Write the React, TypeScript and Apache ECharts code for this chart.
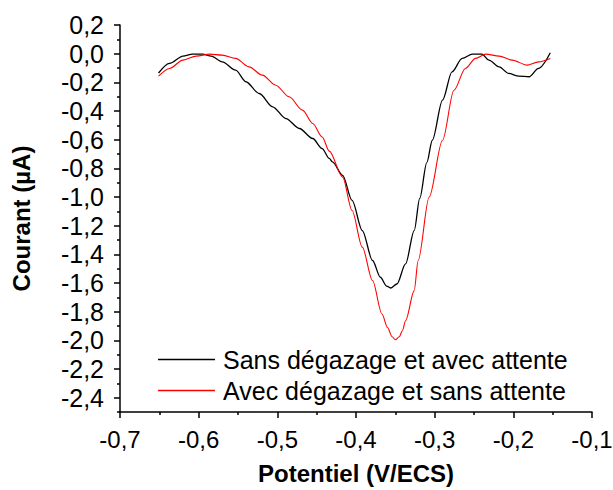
import React, { useEffect, useRef } from "react";
import * as echarts from "echarts";

const seriesNames = ["Sans dégazage et avec attente", "Avec dégazage et sans attente"];

const blackCurve: [number, number][] = [
  [-0.651, -0.135], [-0.637, -0.068], [-0.620, -0.017], [-0.608, -0.003], [-0.595, -0.003],
  [-0.584, -0.017], [-0.570, -0.057], [-0.553, -0.115], [-0.540, -0.196], [-0.523, -0.278],
  [-0.506, -0.371], [-0.489, -0.453], [-0.472, -0.522], [-0.455, -0.592], [-0.443, -0.662],
  [-0.434, -0.730], [-0.430, -0.755], [-0.417, -0.849], [-0.405, -1.024], [-0.392, -1.234],
  [-0.379, -1.443], [-0.369, -1.560], [-0.361, -1.622], [-0.356, -1.635], [-0.348, -1.607],
  [-0.337, -1.467], [-0.326, -1.234], [-0.319, -1.010], [-0.310, -0.760], [-0.303, -0.604],
  [-0.290, -0.324], [-0.278, -0.127], [-0.265, -0.033], [-0.252, -0.003], [-0.240, -0.003],
  [-0.231, -0.045], [-0.218, -0.092], [-0.206, -0.138], [-0.193, -0.157], [-0.180, -0.161],
  [-0.168, -0.103], [-0.153, 0.006],
];

const redCurve: [number, number][] = [
  [-0.651, -0.157], [-0.637, -0.103], [-0.620, -0.045], [-0.603, -0.017], [-0.586, -0.003],
  [-0.570, -0.010], [-0.553, -0.033], [-0.536, -0.092], [-0.519, -0.150], [-0.502, -0.220],
  [-0.485, -0.301], [-0.468, -0.394], [-0.455, -0.487], [-0.443, -0.581], [-0.434, -0.680],
  [-0.417, -0.861], [-0.405, -1.094], [-0.392, -1.350], [-0.379, -1.583], [-0.367, -1.816],
  [-0.360, -1.910], [-0.354, -1.975], [-0.350, -1.996], [-0.345, -1.975], [-0.341, -1.933],
  [-0.337, -1.863], [-0.326, -1.653], [-0.321, -1.443], [-0.307, -1.000], [-0.290, -0.604],
  [-0.2755, -0.255], [-0.261, -0.103], [-0.248, -0.033], [-0.235, -0.003], [-0.218, -0.017],
  [-0.2015, -0.045], [-0.1825, -0.080], [-0.168, -0.057], [-0.153, -0.033],
];

const xMajorTicks = [-0.7, -0.6, -0.5, -0.4, -0.3, -0.2, -0.1];
const xMinorTicks = [-0.65, -0.55, -0.45, -0.35, -0.25, -0.15];
const yMajorTicks = [-2.4, -2.2, -2.0, -1.8, -1.6, -1.4, -1.2, -1.0, -0.8, -0.6, -0.4, -0.2, 0.0, 0.2];
const yMinorTicks = [-2.5, -2.3, -2.1, -1.9, -1.7, -1.5, -1.3, -1.1, -0.9, -0.7, -0.5, -0.3, -0.1, 0.1];

const fmt = (v: number) => {
  const r = Math.round(v * 10) / 10;
  if (Math.abs(r) < 1e-9) return "0,0";
  return r.toFixed(1).replace(".", ",");
};

const FONT = "'Liberation Sans', Arial, sans-serif";

export default function App() {
  const ref = useRef<HTMLDivElement>(null);
  useEffect(() => {
    if (!ref.current) return;
    const chart = echarts.init(ref.current, undefined, { renderer: "svg" });
    const axisLine = { show: true, onZero: false, lineStyle: { color: "#000", width: 1.5 } };
    const tickStyle = { color: "#000", width: 1.5 };
    chart.setOption({
      animation: false,
      backgroundColor: "#fff",
      textStyle: { fontFamily: FONT },
      grid: { left: 120, right: 21, top: 25, bottom: 78, outerBoundsMode: "none", containLabel: false },
      legend: {
        orient: "vertical",
        left: 158,
        top: 347,
        padding: 0,
        icon: "rect",
        itemWidth: 57,
        itemHeight: 1.5,
        itemGap: 6,
        data: seriesNames,
        textStyle: { fontFamily: FONT, fontSize: 25, color: "#000", lineHeight: 25, padding: [0, 0, 0, 3] },
      },
      xAxis: [
        {
          type: "value",
          min: -0.7,
          max: -0.1,
          position: "bottom",
          axisLine,
          splitLine: { show: false },
          axisTick: { show: true, customValues: xMajorTicks, length: 6, lineStyle: tickStyle },
          axisLabel: {
            customValues: xMajorTicks,
            formatter: fmt,
            fontSize: 24,
            color: "#000",
            margin: 15,
            fontFamily: FONT,
          },
          name: "Potentiel (V/ECS)",
          nameLocation: "middle",
          nameGap: 49,
          nameTextStyle: { fontFamily: FONT, fontSize: 24, fontWeight: "bold", color: "#000" },
        },
        {
          type: "value",
          min: -0.7,
          max: -0.1,
          position: "bottom",
          offset: 0,
          axisLine: { show: false, onZero: false },
          splitLine: { show: false },
          axisTick: { show: true, customValues: xMinorTicks, length: 3, lineStyle: tickStyle },
          axisLabel: { show: false },
        },
      ],
      yAxis: [
        {
          type: "value",
          min: -2.5,
          max: 0.2,
          position: "left",
          axisLine,
          splitLine: { show: false },
          axisTick: { show: true, customValues: yMajorTicks, length: 6, lineStyle: tickStyle },
          axisLabel: {
            customValues: yMajorTicks,
            formatter: fmt,
            fontSize: 25,
            color: "#000",
            margin: 16,
            fontFamily: FONT,
          },
          name: "Courant (µA)",
          nameLocation: "middle",
          nameGap: 87,
          nameRotate: 90,
          nameTextStyle: { fontFamily: FONT, fontSize: 24, fontWeight: "bold", color: "#000" },
        },
        {
          type: "value",
          min: -2.5,
          max: 0.2,
          position: "left",
          offset: 0,
          axisLine: { show: false, onZero: false },
          splitLine: { show: false },
          axisTick: { show: true, customValues: yMinorTicks, length: 3, lineStyle: tickStyle },
          axisLabel: { show: false },
        },
      ],
      series: [
        {
          name: seriesNames[0],
          type: "line",
          data: blackCurve,
          showSymbol: false,
          symbol: "none",
          smooth: 0.3,
          smoothMonotone: "x",
          lineStyle: { color: "#000", width: 1.3 },
          itemStyle: { color: "#000" },
        },
        {
          name: seriesNames[1],
          type: "line",
          data: redCurve,
          showSymbol: false,
          symbol: "none",
          smooth: 0.3,
          smoothMonotone: "x",
          lineStyle: { color: "#ff0000", width: 1.1 },
          itemStyle: { color: "#ff0000" },
        },
      ],
    });
    return () => chart.dispose();
  }, []);
  return (
    <div
      ref={ref}
      style={{ position: "fixed", left: 0, top: 0, width: 613, height: 490 }}
    />
  );
}
